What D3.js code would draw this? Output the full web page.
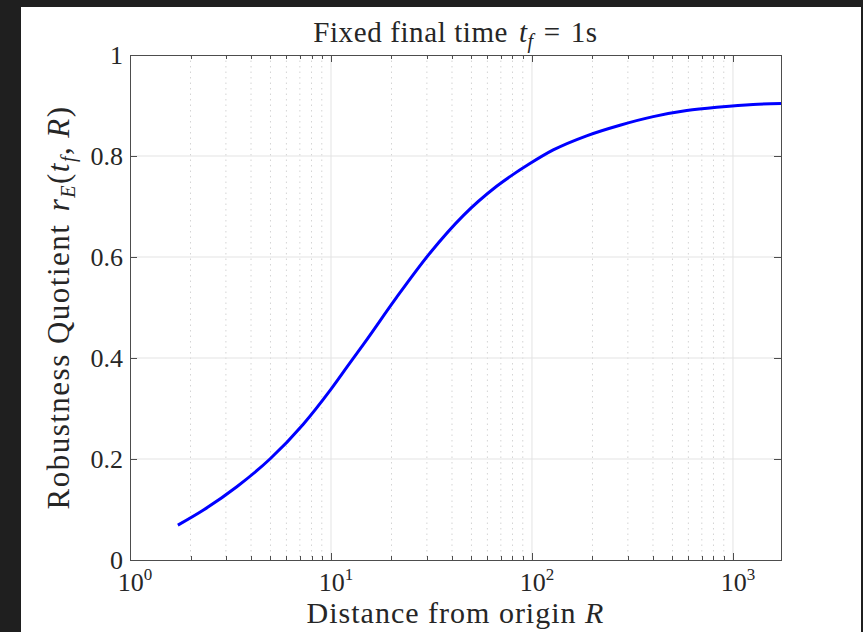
<!DOCTYPE html>
<html>
<head>
<meta charset="utf-8">
<script src="https://cdn.jsdelivr.net/npm/d3@7"></script>
<style>
  html, body { margin: 0; padding: 0; background: #1f1f1f; }
  svg { display: block; }
  text { font-family: "Liberation Serif", "DejaVu Serif", serif; fill: #262626; }
</style>
</head>
<body>
<div id="chart"></div>
<script>
// Chart size
var svgWidth = 863;
var svgHeight = 632;

// plot box
var margin = { top: 55, right: 82, bottom: 72, left: 130 };
var width = svgWidth - margin.left - margin.right;
var height = svgHeight - margin.top - margin.bottom;

// data
var distanceR = [1.73, 2.32, 3.4, 4.97, 7.28, 9.9, 12.4, 14.5, 21.2, 31.1, 45.5, 66.7, 97.7,
                 127.6, 187, 274, 401, 589, 861, 1260, 1734];
var quotient = [0.069, 0.099, 0.145, 0.200, 0.269, 0.336, 0.390, 0.427, 0.520, 0.608, 0.682, 0.740, 0.785,
                0.812, 0.840, 0.861, 0.878, 0.890, 0.897, 0.902, 0.904];
var xDomain = [1, 1734];
var yTicks = [0, 0.2, 0.4, 0.6, 0.8, 1];
var xTicks = [1, 10, 100, 1000];

var svg = d3.select("#chart").append("svg")
  .attr("width", svgWidth)
  .attr("height", svgHeight);

// white figure area
svg.append("rect")
  .attr("x", 21).attr("y", 7)
  .attr("width", 840).attr("height", 625)
  .attr("fill", "#ffffff");

var chartGroup = svg.append("g")
  .attr("transform", `translate(${margin.left}, ${margin.top})`);

var xScale = d3.scaleLog().domain(xDomain).range([0, width]);
var yScale = d3.scaleLinear().domain([0, 1]).range([height, 0]);

// minor ticks 2..9 in each decade
var minorTicks = [];
[1, 10, 100, 1000].forEach(function(d) {
  for (var k = 2; k <= 9; k++) {
    if (d * k <= xDomain[1]) minorTicks.push(d * k);
  }
});

// minor grid (dotted)
chartGroup.append("g").selectAll("line")
  .data(minorTicks)
  .enter()
  .append("line")
  .attr("x1", d => xScale(d)).attr("x2", d => xScale(d))
  .attr("y1", 0).attr("y2", height)
  .attr("stroke", "#d4d4d4")
  .attr("stroke-width", 1)
  .attr("stroke-dasharray", "1.5,4");

// major grid
chartGroup.append("g").selectAll("line")
  .data(xTicks.slice(1))
  .enter()
  .append("line")
  .attr("x1", d => xScale(d)).attr("x2", d => xScale(d))
  .attr("y1", 0).attr("y2", height)
  .attr("stroke", "#e3e3e3")
  .attr("stroke-width", 1);

chartGroup.append("g").selectAll("line")
  .data(yTicks.slice(1, -1))
  .enter()
  .append("line")
  .attr("x1", 0).attr("x2", width)
  .attr("y1", d => yScale(d)).attr("y2", d => yScale(d))
  .attr("stroke", "#e3e3e3")
  .attr("stroke-width", 1);

// the curve
var line = d3.line()
  .x((d, i) => xScale(distanceR[i]))
  .y(d => yScale(d))
  .curve(d3.curveMonotoneX);

chartGroup.append("path")
  .datum(quotient)
  .attr("d", line)
  .attr("fill", "none")
  .attr("stroke", "#0000ff")
  .attr("stroke-width", 3);

// axes box with inward ticks
var axisColor = "#4d4d4d";
var ticksG = chartGroup.append("g").attr("stroke", axisColor).attr("stroke-width", 1);

// x major + minor ticks on bottom and top
xTicks.concat(minorTicks).forEach(function(d) {
  var len = xTicks.indexOf(d) >= 0 ? 7 : 4;
  var x = Math.round(xScale(d)) + 0.5;
  ticksG.append("line").attr("x1", x).attr("x2", x).attr("y1", height).attr("y2", height - len);
  ticksG.append("line").attr("x1", x).attr("x2", x).attr("y1", 0).attr("y2", len);
});
yTicks.forEach(function(d) {
  var y = Math.round(yScale(d)) + 0.5;
  ticksG.append("line").attr("x1", 0).attr("x2", 7).attr("y1", y).attr("y2", y);
  ticksG.append("line").attr("x1", width).attr("x2", width - 7).attr("y1", y).attr("y2", y);
});

chartGroup.append("rect")
  .attr("x", 0.5).attr("y", 0.5)
  .attr("width", width).attr("height", height)
  .attr("fill", "none")
  .attr("stroke", axisColor)
  .attr("stroke-width", 1);

// y tick labels
chartGroup.append("g").selectAll("text")
  .data(yTicks)
  .enter()
  .append("text")
  .attr("x", -7)
  .attr("y", d => yScale(d))
  .attr("dy", "0.33em")
  .attr("text-anchor", "end")
  .attr("font-size", 26)
  .text(d => d3.format("")(d));

// x tick labels 10^n
var xLab = chartGroup.append("g").selectAll("text")
  .data(xTicks)
  .enter()
  .append("text")
  .attr("x", d => xScale(d) + 5)
  .attr("y", height + 31)
  .attr("text-anchor", "middle")
  .attr("font-size", 26);
xLab.append("tspan").text("10");
xLab.append("tspan")
  .attr("font-size", 17)
  .attr("dy", -11)
  .text(d => Math.round(Math.log10(d)));

// x axis label
var xTitle = chartGroup.append("text")
  .attr("x", width / 2)
  .attr("y", height + 63)
  .attr("text-anchor", "middle")
  .attr("font-size", 30)
  .attr("letter-spacing", 1);
xTitle.append("tspan").text("Distance from origin ");
xTitle.append("tspan").attr("font-style", "italic").text("R");

// y axis label
var yTitle = chartGroup.append("text")
  .attr("transform", "rotate(-90)")
  .attr("x", -height / 2)
  .attr("y", -61)
  .attr("text-anchor", "middle")
  .attr("font-size", 31)
  .attr("letter-spacing", 1.5);
yTitle.append("tspan").text("Robustness Quotient ");
yTitle.append("tspan").attr("font-style", "italic").attr("dx", 3).text("r");
yTitle.append("tspan").attr("font-style", "italic").attr("font-size", 20).attr("dy", 6).text("E");
yTitle.append("tspan").attr("dy", -6).text("(");
yTitle.append("tspan").attr("font-style", "italic").text("t");
yTitle.append("tspan").attr("font-style", "italic").attr("font-size", 20).attr("dy", 6).text("f");
yTitle.append("tspan").attr("dy", -6).text(",");
yTitle.append("tspan").attr("font-style", "italic").attr("dx", 8).text("R");
yTitle.append("tspan").text(")");

// title
var title = chartGroup.append("text")
  .attr("x", width / 2)
  .attr("y", -13)
  .attr("text-anchor", "middle")
  .attr("font-size", 29)
  .attr("letter-spacing", 0.6);
title.append("tspan").text("Fixed final time ");
title.append("tspan").attr("font-style", "italic").attr("dx", 3).text("t");
title.append("tspan").attr("font-style", "italic").attr("font-size", 20).attr("dy", 6).text("f");
title.append("tspan").attr("dy", -6).attr("dx", 10).text("=");
title.append("tspan").attr("dx", 10).text("1s");
</script>
</body>
</html>
